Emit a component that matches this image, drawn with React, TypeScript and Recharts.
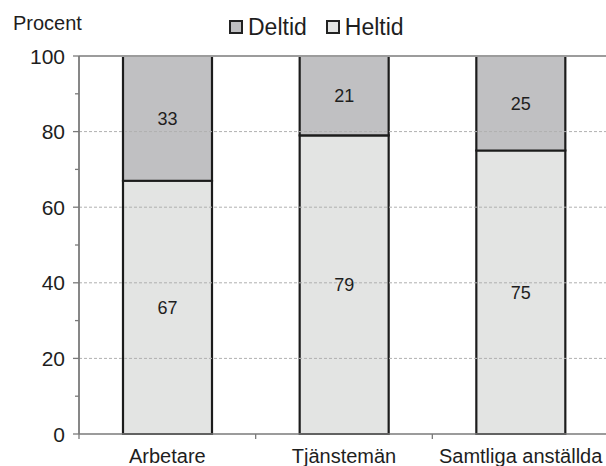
import { Bar, BarChart, LabelList, ReferenceLine, XAxis, YAxis } from "recharts";

const categories = ["Arbetare", "Tjänstemän", "Samtliga anställda"];
const heltid = [67, 79, 75];
const deltid = [33, 21, 25];
const yTicks = [0, 10, 20, 30, 40, 50, 60, 70, 80, 90, 100];
const gridValues = [20, 40, 60, 80];

const data = categories.map((name, i) => ({ name, heltid: heltid[i], deltid: deltid[i] }));

const FONT = "'Liberation Sans', Arial, sans-serif";
const TEXT = "#1e1e1e";
const AXIS = "#7a7a7a";
const HELTID = "#e3e4e3";
const DELTID = "#c0c0c2";

const Y_TICK_SIZE = 6;
const Y_TICK_MARGIN = 8;
const X_TICK_SIZE = 5;
const X_TICK_MARGIN = 10;

const YTick = (props: any) => {
    const { x, y, payload } = props;
    const axisX = x + Y_TICK_SIZE + Y_TICK_MARGIN;
    const major = payload.value % 20 === 0;
    return (
        <g>
            <line x1={axisX - (major ? 6 : 4)} x2={axisX} y1={y} y2={y} stroke={AXIS} strokeWidth={1.3} />
            {major && (
                <text x={x} y={y} dy="0.36em" textAnchor="end" fontSize={21} fill={TEXT} fontFamily={FONT}>
                    {payload.value}
                </text>
            )}
        </g>
    );
};

const XTick = (props: any) => {
    const { x, y, payload, index } = props;
    const axisY = y - X_TICK_SIZE - X_TICK_MARGIN;
    const half = payload.offset || 88;
    return (
        <g>
            {index === 0 && <line x1={x - half} x2={x - half} y1={axisY} y2={axisY + X_TICK_SIZE} stroke={AXIS} strokeWidth={1.3} />}
            <line x1={x + half} x2={x + half} y1={axisY} y2={axisY + X_TICK_SIZE} stroke={AXIS} strokeWidth={1.3} />
            <text x={x} y={y} dy="0.72em" textAnchor="middle" fontSize={20} fill={TEXT} fontFamily={FONT}>
                {payload.value}
            </text>
        </g>
    );
};

const legendItems = [
    { label: "Deltid", color: DELTID },
    { label: "Heltid", color: HELTID },
];

const App = () => {
    return (
        <div style={{ position: "absolute", left: 0, top: 0, width: 606, height: 466, overflow: "hidden", background: "#fff" }}>
            <div style={{ position: "absolute", left: 13, top: 13, fontFamily: FONT, fontSize: 20, color: TEXT, lineHeight: "20px" }}>
                Procent
            </div>
            <div style={{ position: "absolute", left: 229, top: 14, display: "flex", gap: 19, fontFamily: FONT, fontSize: 23, color: TEXT, lineHeight: "26px" }}>
                {legendItems.map((it) => (
                    <div key={it.label} style={{ display: "flex", alignItems: "center", gap: 5 }}>
                        <span style={{ display: "inline-block", width: 10, height: 10, border: "2px solid #222", background: it.color }} />
                        <span>{it.label}</span>
                    </div>
                ))}
            </div>
            <BarChart width={612} height={466} data={data} margin={{ top: 56, right: 3, left: 0, bottom: 0 }} barSize={89}>
                <XAxis
                    dataKey="name"
                    height={32}
                    tick={<XTick />}
                    tickLine={false}
                    tickSize={X_TICK_SIZE}
                    tickMargin={X_TICK_MARGIN}
                    axisLine={{ stroke: AXIS, strokeWidth: 1.5 }}
                    interval={0}
                />
                <YAxis
                    width={79}
                    domain={[0, 100]}
                    ticks={yTicks}
                    interval={0}
                    tick={<YTick />}
                    tickLine={false}
                    tickSize={Y_TICK_SIZE}
                    tickMargin={Y_TICK_MARGIN}
                    axisLine={{ stroke: AXIS, strokeWidth: 1.8 }}
                />
                {gridValues.map((v) => (
                    <ReferenceLine key={v} y={v} stroke="#b0b0b0" strokeDasharray="3 2" strokeWidth={1} />
                ))}
                <ReferenceLine y={100} stroke="#9c9c9c" strokeWidth={2} />
                <Bar dataKey="heltid" name="Heltid" stackId="a" fill={HELTID} stroke="#1c1c1c" strokeWidth={2.2} isAnimationActive={false}>
                    <LabelList dataKey="heltid" position="center" fontSize={18} fill={TEXT} fontFamily={FONT} />
                </Bar>
                <Bar dataKey="deltid" name="Deltid" stackId="a" fill={DELTID} stroke="#1c1c1c" strokeWidth={2.2} isAnimationActive={false}>
                    <LabelList dataKey="deltid" position="center" fontSize={18} fill={TEXT} fontFamily={FONT} />
                </Bar>
            </BarChart>
        </div>
    );
};

export default App;
